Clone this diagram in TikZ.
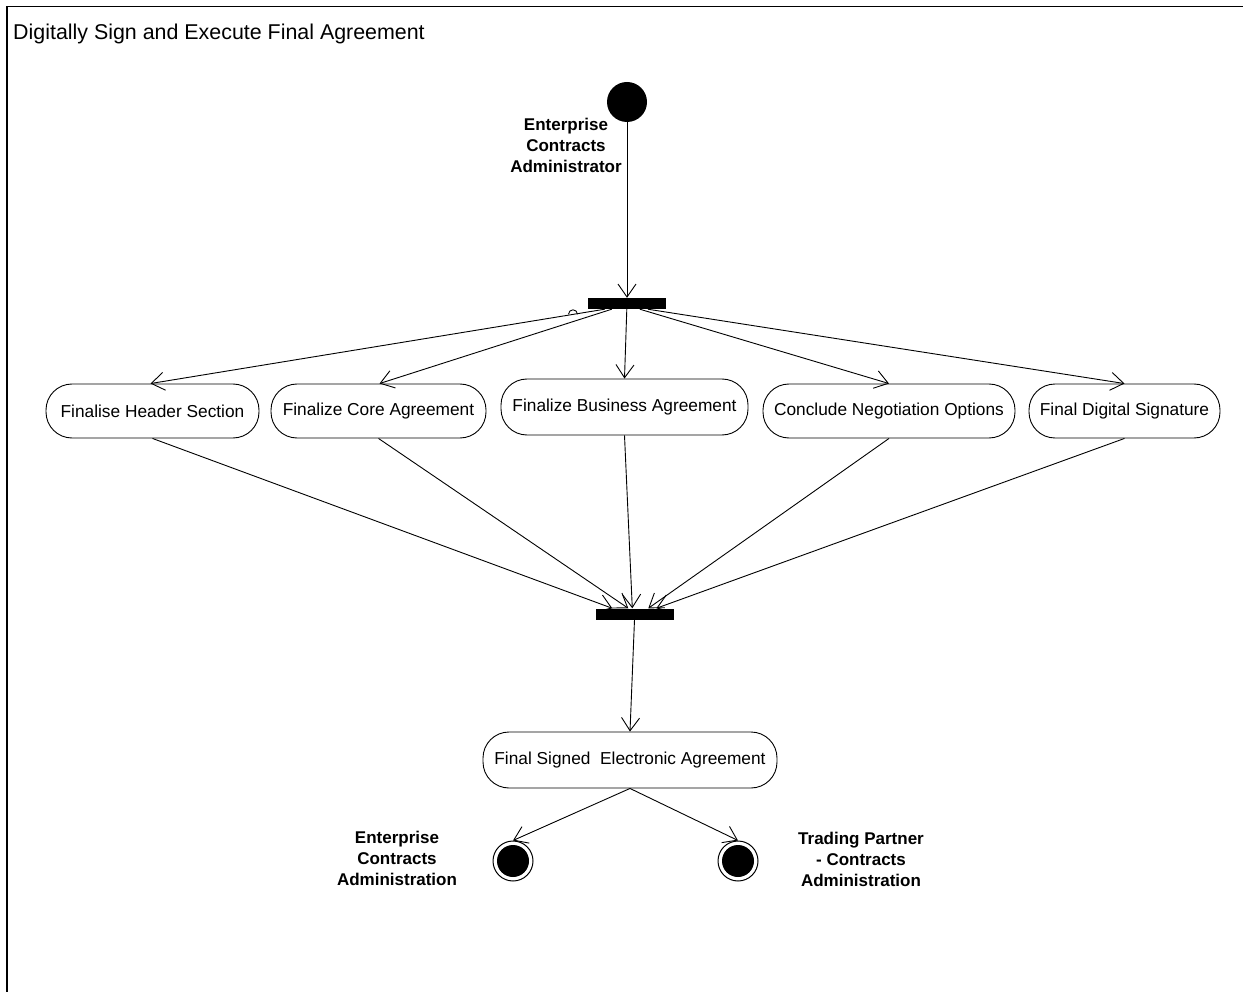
\documentclass[tikz,border=0pt]{standalone}
\usepackage{fontspec}
\setmainfont{Liberation Sans}
\usetikzlibrary{arrows.meta,calc}
\begin{document}
\begin{tikzpicture}[x=1pt,y=-1pt,
 act/.style={draw,line width=0.9pt,rounded corners=26pt,minimum height=54pt,inner sep=0pt,font=\fontsize{17.3}{20}\selectfont},
 bar/.style={fill=black,inner sep=0pt,minimum width=78pt,minimum height=11pt},
 flow/.style={line width=0.9pt,-{Straight Barb[length=13pt,width=18pt,line width=0.9pt]}},
 lbl/.style={font=\fontsize{17}{21}\selectfont\bfseries,align=center,inner sep=0pt},
 ]
\useasboundingbox (0,0) rectangle (1243,992);
\draw[line width=1.5pt] (1243,6.5) -- (7,6.5) -- (7,992);
\node[anchor=west,font=\fontsize{21.4}{25}\selectfont,inner sep=0pt] (title) at (13,34) {Digitally Sign and Execute Final Agreement};

\node[circle,fill=black,minimum size=40pt,inner sep=0pt] (start) at (627,102) {};
\node[lbl] (lstart) at (566,145) {Enterprise\\Contracts\\Administrator};

\node[bar] (f1) at (627,303.5) {};
\node[bar] (j1) at (634.5,614) {};

\node[act,minimum width=213pt] (b1) at (152.5,411) {Finalise Header Section};
\node[act,minimum width=215pt] (b2) at (378.5,411) {Finalize Core Agreement};
\node[act,minimum width=247pt,minimum height=56pt] (b3) at (624.5,407) {Finalize Business Agreement};
\node[act,minimum width=252pt] (b4) at (889,411) {Conclude Negotiation Options};
\node[act,minimum width=191pt] (b5) at (1124.5,411) {Final Digital Signature};
\node[act,minimum width=294pt,minimum height=56pt] (fin) at (630,760) {Final Signed\ \ Electronic Agreement};

\node[circle,draw,line width=1pt,minimum size=40pt,inner sep=0pt] (e1) at (513,861) {};
\fill (e1.center) circle[radius=16];
\node[circle,draw,line width=1pt,minimum size=40pt,inner sep=0pt] (e2) at (738,861) {};
\fill (e2.center) circle[radius=16];
\node[lbl] (le1) at (397,858) {Enterprise\\Contracts\\Administration};
\node[lbl] (le2) at (861,859) {Trading Partner\\- Contracts\\Administration};

\draw[flow] (start) -- (f1.north);
\draw[flow] ($(f1.south west)+(17,0)$) -- ($(b1.north)+(-2,0)$);
\draw[flow] ($(f1.south west)+(24,0)$) -- ($(b2.north)+(1,0)$);
\draw[flow] ($(f1.south west)+(39,0)$) -- (b3.north);
\draw[flow] ($(f1.south west)+(52,0)$) -- (b4.north);
\draw[flow] ($(f1.south west)+(60,0)$) -- (b5.north);
\draw[line width=0.9pt] (568.5,314.3) arc[start angle=180,end angle=360,radius=4.5];

\draw[flow] (b1.south) -- ($(j1.north west)+(17,0)$);
\draw[flow] (b2.south) -- ($(j1.north west)+(33,0)$);
\draw[flow] (b3.south) -- ($(j1.north west)+(37,0)$);
\draw[flow] (b4.south) -- ($(j1.north west)+(53,0)$);
\draw[flow] (b5.south) -- ($(j1.north west)+(61,0)$);

\draw[flow] (j1.south) -- (fin.north);
\draw[flow] (fin.south) -- (e1.north);
\draw[flow] (fin.south) -- (e2.north);
\end{tikzpicture}
\end{document}
